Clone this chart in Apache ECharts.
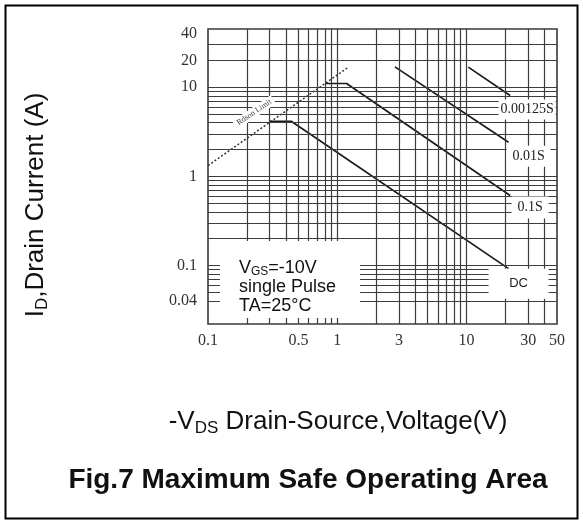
<!DOCTYPE html>
<html>
<head>
<meta charset="utf-8">
<title>Fig.7 Maximum Safe Operating Area</title>
<script src="https://cdn.jsdelivr.net/npm/echarts@6/dist/echarts.min.js"></script>
<style>
  html, body { margin: 0; padding: 0; background: #fff; }
  #chart { width: 583px; height: 523px; }
</style>
</head>
<body>
<div id="chart"></div>
<script>
// Axis tick labels
const xTicks = [0.1, 0.5, 1, 3, 10, 30, 50];
const yTicks = [0.04, 0.1, 1, 10, 20, 40];

// Log-paper grid values
const gridV = [0.2, 0.3, 0.4, 0.5, 0.6, 0.7, 0.8, 0.9, 1, 2, 3, 4, 5, 6, 7, 8, 9, 10, 20, 30, 40];
const gridI = [0.04, 0.05, 0.06, 0.07, 0.08, 0.09, 0.1, 0.2, 0.3, 0.4, 0.5, 0.6, 0.7, 0.8, 0.9,
               1, 2, 3, 4, 5, 6, 7, 8, 9, 10, 20, 30];

// On-resistance limit (VDS, ID)
const rdsonV = [0.1, 1.22];
const rdsonI = [1.32, 16.8];

// Safe operating boundaries (VDS in V, ID in A)
const dcV = [0.30, 0.44, 21.1];
const dcI = [4.15, 4.15, 0.092];
const p100msV = [0.81, 1.18, 21.7];
const p100msI = [11.0, 11.0, 0.61];
const p10msV = [2.79, 21.1];
const p10msI = [16.9, 2.41];
const p1250usV = [10.3, 21.7];
const p1250usI = [16.8, 8.07];

const SERIF = "'Liberation Serif', 'Times New Roman', serif";
const SANS = "'Liberation Sans', Arial, sans-serif";

const zip = (v, i) => v.map((x, k) => [x, i[k]]);
const nearestTick = (ticks, val) =>
  ticks.reduce((a, b) => Math.abs(Math.log(b / val)) < Math.abs(Math.log(a / val)) ? b : a);

// White tag at the far end of a boundary curve
function endTag(v, i, text, w, h, dx, dy, font, size) {
  return {
    coord: [v[v.length - 1], i[i.length - 1]],
    symbol: 'rect',
    symbolSize: [w, h],
    symbolOffset: [dx, dy],
    itemStyle: { color: '#fff' },
    label: {
      show: true, position: 'inside', formatter: text,
      color: '#222', fontFamily: font, fontSize: size
    }
  };
}

function curve(name, v, i, tag) {
  return {
    name: name,
    type: 'line',
    data: zip(v, i),
    showSymbol: false,
    silent: true,
    z: 3,
    lineStyle: { color: '#1a1a1a', width: 1.7 },
    markPoint: { silent: true, animation: false, data: [tag] }
  };
}

// Point on the Rdson line (log-interpolated) that carries its caption
const tR = 0.42;
const rdsonTagV = Math.pow(10, Math.log10(rdsonV[0]) + tR * (Math.log10(rdsonV[1]) - Math.log10(rdsonV[0])));
const rdsonTagI = Math.pow(10, Math.log10(rdsonI[0]) + tR * (Math.log10(rdsonI[1]) - Math.log10(rdsonI[0])));

const chart = echarts.init(document.getElementById('chart'), null, { renderer: 'canvas' });

const option = {
  animation: false,
  backgroundColor: '#fff',
  grid: {
    left: 208, top: 29, right: 26, bottom: 199,
    show: true, borderColor: '#3a3a3a', borderWidth: 1.6, backgroundColor: 'transparent'
  },
  xAxis: {
    type: 'log', logBase: 10, min: 0.1, max: 50,
    axisLine: { show: false }, axisTick: { show: false },
    splitLine: { show: false }, minorTick: { show: false }, minorSplitLine: { show: false },
    axisLabel: {
      customValues: xTicks,
      formatter: v => String(nearestTick(xTicks, v)),
      margin: 9, fontFamily: SERIF, fontSize: 16, color: '#333'
    }
  },
  yAxis: {
    type: 'log', logBase: 10, min: 0.022, max: 45,
    axisLine: { show: false }, axisTick: { show: false },
    splitLine: { show: false }, minorTick: { show: false }, minorSplitLine: { show: false },
    axisLabel: {
      customValues: yTicks,
      formatter: v => String(nearestTick(yTicks, v)),
      margin: 11, fontFamily: SERIF, fontSize: 16, color: '#333'
    }
  },
  series: [
    {
      name: 'grid',
      type: 'line',
      data: [],
      silent: true,
      z: 1,
      markLine: {
        silent: true, animation: false,
        symbol: ['none', 'none'],
        label: { show: false },
        lineStyle: { color: '#3c3c3c', width: 1.2, type: 'solid' },
        emphasis: { disabled: true },
        data: [].concat(gridV.map(v => ({ xAxis: v })), gridI.map(i => ({ yAxis: i })))
      }
    },
    {
      name: 'Rdson Limit',
      type: 'line',
      data: zip(rdsonV, rdsonI),
      showSymbol: false,
      silent: true,
      z: 3,
      lineStyle: { color: '#333', width: 1.5, type: [2, 2] },
      markPoint: {
        silent: true, animation: false,
        data: [{
          coord: [rdsonTagV, rdsonTagI],
          symbol: 'rect', symbolSize: [1, 1],
          itemStyle: { color: 'rgba(0,0,0,0)' },
          label: {
            show: true, position: 'inside', formatter: 'Rdson Limit',
            offset: [-4, -17], rotate: 34,
            fontFamily: SERIF, fontSize: 8, color: '#444',
            backgroundColor: '#fff', padding: [1, 3]
          }
        }]
      }
    },
    curve('DC', dcV, dcI, endTag(dcV, dcI, 'DC', 60, 30, 10, 15, SANS, 13)),
    curve('0.1S', p100msV, p100msI, endTag(p100msV, p100msI, '0.1S', 37, 22, 20, 12, SERIF, 14)),
    curve('0.01S', p10msV, p10msI, endTag(p10msV, p10msI, '0.01S', 44, 21, 20, 14, SERIF, 14)),
    curve('0.00125S', p1250usV, p1250usI, endTag(p1250usV, p1250usI, '0.00125S', 57, 20, 17, 14, SERIF, 14))
  ],
  graphic: [
    // outer frame
    {
      type: 'rect', z: 100, silent: true,
      shape: { x: 5.5, y: 5.5, width: 572, height: 513 },
      style: { fill: 'none', stroke: '#000', lineWidth: 2 }
    },
    // condition box
    {
      type: 'rect', z: 50, silent: true,
      shape: { x: 220, y: 241, width: 140, height: 77 },
      style: { fill: '#fff' }
    },
    {
      type: 'text', z: 51, silent: true,
      x: 239, y: 258.5,
      style: {
        text: '{a|V}{s|GS}{a|=-10V}\n{a|single Pulse}\n{a|TA=25°C}',
        align: 'left', verticalAlign: 'top',
        rich: {
          a: { fontFamily: SANS, fontSize: 18, lineHeight: 19, fill: '#111' },
          s: { fontFamily: SANS, fontSize: 12, lineHeight: 11, verticalAlign: 'bottom', fill: '#111' }
        }
      }
    },
    // y-axis title
    {
      type: 'text', z: 51, silent: true,
      x: 36, y: 205, rotation: Math.PI / 2,
      style: {
        text: '{a|I}{s|D}{a|,Drain Current (A)}',
        align: 'center', verticalAlign: 'middle',
        rich: {
          a: { fontFamily: SANS, fontSize: 26, lineHeight: 30, fill: '#111' },
          s: { fontFamily: SANS, fontSize: 17, lineHeight: 16, verticalAlign: 'bottom', fill: '#111' }
        }
      }
    },
    // x-axis title
    {
      type: 'text', z: 51, silent: true,
      x: 338, y: 422,
      style: {
        text: '{a|-V}{s|DS}{a| Drain-Source,Voltage(V)}',
        align: 'center', verticalAlign: 'middle',
        rich: {
          a: { fontFamily: SANS, fontSize: 26, lineHeight: 30, fill: '#111' },
          s: { fontFamily: SANS, fontSize: 17, lineHeight: 16, verticalAlign: 'bottom', fill: '#111' }
        }
      }
    },
    // figure caption
    {
      type: 'text', z: 51, silent: true,
      x: 308, y: 480,
      style: {
        text: 'Fig.7 Maximum Safe Operating Area',
        align: 'center', verticalAlign: 'middle',
        fontFamily: SANS, fontSize: 28, fontWeight: 'bold', fill: '#111'
      }
    }
  ]
};

chart.setOption(option);
</script>
</body>
</html>
